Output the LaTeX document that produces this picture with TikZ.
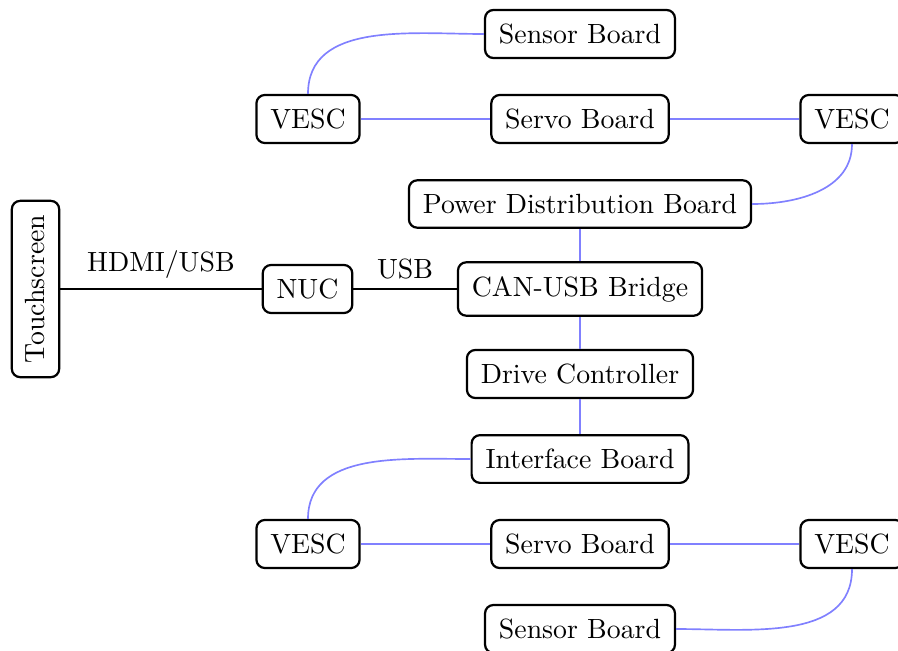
\documentclass[tikz,border=0pt]{standalone}
\begin{document}
\begin{tikzpicture}[x=0.3597pt, y=-0.3597pt,
  box/.style={draw, thick, rounded corners=3pt, inner sep=5pt, fill=white},
  bus/.style={semithick, blue!50},
  wire/.style={semithick, black}]
\useasboundingbox (0,0) rectangle (898,650);

% upper group
\node[box] (sbt) at (580,34) {Sensor Board};
\node[box] (vtl) at (308,119) {VESC};
\node[box] (svt) at (580,119) {Servo Board};
\node[box] (vtr) at (852,119) {VESC};
\node[box] (pdb) at (580,204) {Power Distribution Board};

% main chain
\node[box, rotate=90] (ts) at (35.5,289) {Touchscreen};
\node[box] (nuc) at (307.5,289) {NUC};
\node[box] (can) at (580,289) {CAN-USB Bridge};
\node[box] (drv) at (580,374) {Drive Controller};
\node[box] (ifb) at (580,459) {Interface Board};

% lower group
\node[box] (vbl) at (308,544) {VESC};
\node[box] (svb) at (580,544) {Servo Board};
\node[box] (vbr) at (852,544) {VESC};
\node[box] (sbb) at (580,629) {Sensor Board};

% host connections
\draw[wire] (ts.south) -- node[midway, above] {HDMI/USB} (nuc.west);
\draw[wire] (nuc) -- node[midway, above] {USB} (can);

% CAN bus
\draw[bus] (pdb) -- (can);
\draw[bus] (can) -- (drv);
\draw[bus] (drv) -- (ifb);

\draw[bus] (vtl.north) to[out=90, in=180] (sbt.west);
\draw[bus] (vtl) -- (svt);
\draw[bus] (svt) -- (vtr);
\draw[bus] (vtr.south) to[out=-90, in=0] (pdb.east);

\draw[bus] (vbl.north) to[out=90, in=180] (ifb.west);
\draw[bus] (vbl) -- (svb);
\draw[bus] (svb) -- (vbr);
\draw[bus] (vbr.south) to[out=-90, in=0] (sbb.east);
\end{tikzpicture}
\end{document}
